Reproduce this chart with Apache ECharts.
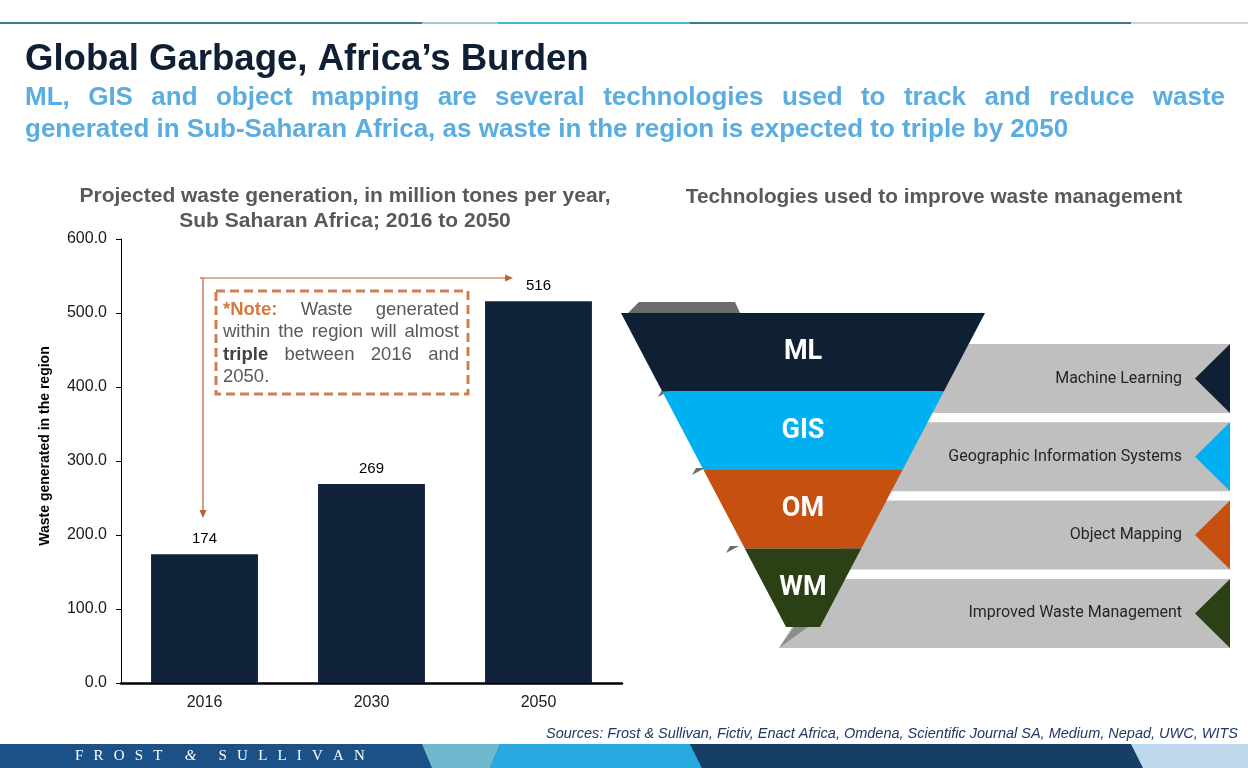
<!DOCTYPE html>
<html>
<head>
<meta charset="utf-8">
<script src="https://cdn.jsdelivr.net/npm/echarts@6/dist/echarts.min.js"></script>
<style>
  html, body {margin: 0; padding: 0; background: #fff;}
  #main {width: 1248px; height: 768px;}
</style>
</head>
<body>
<div id="main"></div>
<script>
// ---- data ----
const years = ['2016', '2030', '2050'];
const wasteMt = [174, 269, 516];
const yMin = 0, yMax = 600, yStep = 100;

const techCodes = ['ML', 'GIS', 'OM', 'WM'];
const techNames = ['Machine Learning', 'Geographic Information Systems', 'Object Mapping', 'Improved Waste Management'];
const techLevels = [4, 3, 2, 1];

const titleText = 'Global Garbage, Africa\u2019s Burden';
const subLine1 = 'ML, GIS and object mapping are several technologies used to track and reduce waste';
const subLine2 = 'generated in Sub-Saharan Africa, as waste in the region is expected to triple by 2050';
const noteLines = [
  [{t: '*Note:', b: true, c: '#d9783c'}, 'Waste', 'generated'],
  ['within', 'the', 'region', 'will', 'almost'],
  [{t: 'triple', b: true, c: '#404040'}, 'between', '2016', 'and'],
  ['2050.']
];
const sourcesText = 'Sources: Frost & Sullivan, Fictiv, Enact Africa, Omdena, Scientific Journal SA, Medium, Nepad, UWC, WITS';

// ---- styles ----
const SANS = '"Liberation Sans", Arial, sans-serif';
const ROBOTO = 'Roboto, "Liberation Sans", sans-serif';
const techColors = ['#0f2035', '#00b0f0', '#c5500f', '#2c4016'];
const barColor = '#10223a';
const grey = '#595959';

const mctx = document.createElement('canvas').getContext('2d');
function textW(t, size, weight, family) {
  mctx.font = (weight || 'normal') + ' ' + size + 'px ' + (family || SANS);
  return mctx.measureText(t).width;
}

// lay words out so they fill x0..x1 (justified)
function justify(words, x0, x1, y, size, weight, color, last) {
  const items = words.map(w => typeof w === 'string' ? {t: w} : w);
  const widths = items.map(w => textW(w.t, size, w.b ? 'bold' : weight));
  const total = widths.reduce((a, b) => a + b, 0);
  let gap = items.length > 1 ? (x1 - x0 - total) / (items.length - 1) : 0;
  if (last) gap = textW(' ', size, weight);
  const out = [];
  let x = x0;
  items.forEach((w, i) => {
    out.push({
      type: 'text', x: x, y: y, z: 20,
      style: {text: w.t, fill: w.c || color, fontSize: size, fontFamily: SANS,
        fontWeight: w.b ? 'bold' : weight, verticalAlign: 'middle'}
    });
    x += widths[i] + gap;
  });
  return out;
}

const graphics = [];

// top thin stripe
[[0, 422, '#3e7b96'], [422, 498, '#a9c6d1'], [498, 690, '#40bcd6'], [690, 1131, '#3e7b96'], [1131, 1248, '#c6d7de']]
  .forEach(s => graphics.push({type: 'rect', shape: {x: s[0], y: 22, width: s[1] - s[0], height: 2}, style: {fill: s[2]}}));

// title + subtitle
graphics.push({type: 'text', x: 25, y: 60, style: {text: titleText, fill: '#0f2035', fontSize: 36.6,
  fontWeight: 'bold', fontFamily: SANS, verticalAlign: 'middle'}});
graphics.push(...justify(subLine1.split(' '), 25, 1225, 98, 26, 'bold', '#5aade0'));
graphics.push({type: 'text', x: 25, y: 130, style: {text: subLine2, fill: '#5aade0', fontSize: 26,
  fontWeight: 'bold', fontFamily: SANS, verticalAlign: 'middle'}});

// chart headings
graphics.push({type: 'text', x: 345, y: 208.5, style: {text: 'Projected waste generation, in million tones per year,\nSub Saharan Africa; 2016 to 2050',
  fill: grey, fontSize: 21, lineHeight: 25, fontWeight: 'bold', fontFamily: SANS, align: 'center', verticalAlign: 'middle'}});
graphics.push({type: 'text', x: 934, y: 197, style: {text: 'Technologies used to improve waste management',
  fill: grey, fontSize: 20.8, fontWeight: 'bold', fontFamily: SANS, align: 'center', verticalAlign: 'middle'}});

// y axis title
graphics.push({type: 'text', x: 45, y: 446, rotation: Math.PI / 2, style: {text: 'Waste generated in the region',
  fill: '#000', fontSize: 14, fontWeight: 'bold', fontFamily: SANS, align: 'center', verticalAlign: 'middle'}});

// arrow annotation
const arrowC = '#b8622f';
graphics.push({type: 'polyline', z: 15, shape: {points: [[203, 512], [203, 278], [506, 278]]}, style: {stroke: arrowC, lineWidth: 1.2, fill: null}});
graphics.push({type: 'line', z: 15, shape: {x1: 200, y1: 278, x2: 203, y2: 278}, style: {stroke: arrowC, lineWidth: 1.2}});
graphics.push({type: 'polygon', z: 15, shape: {points: [[505, 274.5], [513, 278], [505, 281.5]]}, style: {fill: arrowC}});
graphics.push({type: 'polygon', z: 15, shape: {points: [[199.5, 510], [203, 518], [206.5, 510]]}, style: {fill: arrowC}});

// note box
graphics.push({type: 'rect', z: 16, shape: {x: 216, y: 291, width: 252, height: 103},
  style: {fill: '#fff', stroke: '#d0804e', lineWidth: 3, lineDash: [9, 5]}});
noteLines.forEach((ln, i) => {
  graphics.push(...justify(ln, 223, 459, 310 + i * 22.3, 18.5, 'normal', grey, i === noteLines.length - 1));
});

// grey tabs behind the funnel
const edgeX = y => 968 - 0.624 * (y - 345);
techNames.forEach((name, i) => {
  const t = 344 + i * 78.3, b = t + 69, m = (t + b) / 2;
  graphics.push({type: 'polygon', z: 1, shape: {points: [[edgeX(t), t], [1230, t], [1230, b], [edgeX(b), b]]}, style: {fill: '#bfbfbf'}});
  graphics.push({type: 'polygon', z: 1, shape: {points: [[1230, t], [1195, m], [1230, b]]}, style: {fill: techColors[i]}});
  graphics.push({type: 'text', z: 3, x: 1182, y: m, style: {text: name, fill: '#262626', fontSize: 16,
    fontFamily: ROBOTO, align: 'right', verticalAlign: 'middle'}});
});
// 3D shading bits of the funnel
graphics.push({type: 'polygon', z: 1, shape: {points: [[628, 313], [639, 302], [735, 302], [740, 313]]}, style: {fill: '#6b6b6b'}});
[[663, 392], [697, 470], [731, 548]].forEach(p => graphics.push({type: 'polygon', z: 1,
  shape: {points: [[p[0] - 5, p[1] + 5], [p[0] - 1, p[1] - 2], [p[0] + 8, p[1] - 2]]}, style: {fill: '#6b6b6b'}}));
graphics.push({type: 'polygon', z: 1, shape: {points: [[779, 648], [794, 627], [808, 627]]}, style: {fill: '#8c8c8c'}});

// footer
graphics.push({type: 'text', x: 1238, y: 734, style: {text: sourcesText, fill: '#1f3864', fontSize: 14.5,
  fontStyle: 'italic', fontFamily: SANS, align: 'right', verticalAlign: 'middle'}});
graphics.push({type: 'rect', shape: {x: 0, y: 744, width: 1248, height: 24}, style: {fill: '#1c5188'}});
graphics.push({type: 'polygon', shape: {points: [[422, 744], [500, 744], [490, 768], [432, 768]]}, style: {fill: '#70b8ce'}});
graphics.push({type: 'polygon', shape: {points: [[500, 744], [690, 744], [702, 768], [490, 768]]}, style: {fill: '#29a9df'}});
graphics.push({type: 'polygon', shape: {points: [[690, 744], [1131, 744], [1143, 768], [702, 768]]}, style: {fill: '#173f66'}});
graphics.push({type: 'polygon', shape: {points: [[1131, 744], [1248, 744], [1248, 768], [1143, 768]]}, style: {fill: '#bdd8ec'}});
// brand letters, tracked out
(function () {
  const letters = 'FROST & SULLIVAN';
  const serif = '"Liberation Serif", serif';
  let x = 75;
  for (const ch of letters) {
    if (ch === ' ') { x += 12; continue; }
    graphics.push({type: 'text', x: x, y: 756, style: {text: ch, fill: '#fff', fontSize: 15,
      fontStyle: ch === '&' ? 'italic' : 'normal', fontFamily: serif, verticalAlign: 'middle'}});
    x += textW(ch, 15, 'normal', serif) + 10.2;
  }
})();

const chart = echarts.init(document.getElementById('main'));
chart.setOption({
  backgroundColor: '#fff',
  animation: false,
  textStyle: {fontFamily: SANS},
  grid: {left: 121, right: 626, top: 239, bottom: 85, containLabel: false},
  xAxis: {
    type: 'category',
    data: years,
    axisLine: {lineStyle: {color: '#000', width: 2.5}},
    axisTick: {show: false},
    axisLabel: {color: '#1a1a1a', fontSize: 16, margin: 12}
  },
  yAxis: {
    type: 'value',
    min: yMin, max: yMax, interval: yStep,
    axisLine: {show: true, lineStyle: {color: '#000', width: 1}},
    axisTick: {show: true, length: 5, lineStyle: {color: '#000'}},
    splitLine: {show: false},
    axisLabel: {color: '#1a1a1a', fontSize: 16, margin: 14, formatter: v => v.toFixed(1)}
  },
  series: [
    {
      type: 'bar',
      data: wasteMt,
      barWidth: '64%',
      itemStyle: {color: barColor},
      label: {show: true, position: 'top', distance: 8, color: '#000', fontSize: 15},
      silent: true
    },
    {
      type: 'funnel',
      left: 621, top: 313, width: 364, height: 314,
      min: 0, max: 4,
      minSize: 34, maxSize: 364,
      sort: 'none',
      gap: 0,
      z: 5,
      silent: true,
      label: {show: true, position: 'inside', color: '#fff', fontSize: 27, fontWeight: 'bold',
        fontFamily: ROBOTO, textBorderWidth: 0},
      labelLine: {show: false},
      itemStyle: {borderWidth: 0},
      data: techCodes.map((c, i) => ({name: c, value: techLevels[i], itemStyle: {color: techColors[i]}}))
    }
  ],
  graphic: graphics
});
</script>
</body>
</html>
